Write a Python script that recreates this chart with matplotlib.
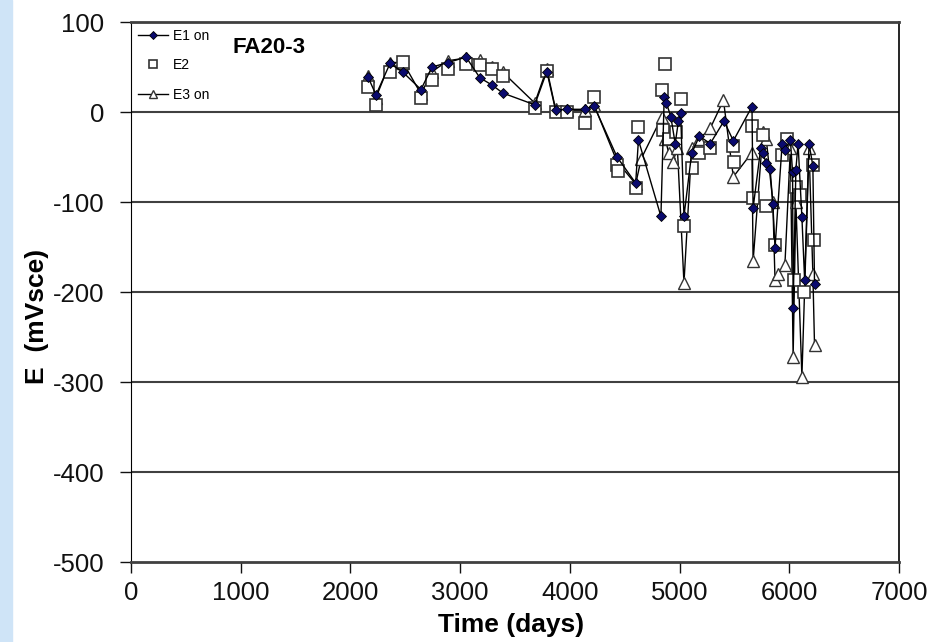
import numpy as np
import matplotlib.pyplot as plt
from matplotlib.patches import Rectangle

plt.rcParams['font.family'] = ['Liberation Sans', 'DejaVu Sans']
plt.rcParams['axes.unicode_minus'] = False

# E1 on (filled diamonds)
e1_days = [2160, 2233, 2361, 2480, 2643, 2744, 2890, 3054, 3180, 3290, 3390,
           3680, 3790, 3870, 3970, 4140, 4220, 4430, 4600, 4625, 4830, 4860,
           4880, 4920, 4960, 4990, 5010, 5040, 5110, 5180, 5280, 5405, 5490,
           5660, 5670, 5740, 5760, 5790, 5825, 5850, 5870, 5935, 5960, 6010,
           6030, 6035, 6060, 6080, 6115, 6140, 6180, 6215, 6230]
e1_vals = [39, 19, 54, 44, 25, 50, 55, 61, 38, 30, 21,
           8, 45, 2, 3, 3, 7, -50, -79, -31, -116, 17,
           10, -5, -35, -10, -1, -116, -46, -27, -35, -10, -32,
           6, -107, -40, -46, -57, -63, -102, -151, -35, -42, -31,
           -67, -218, -64, -35, -117, -187, -35, -60, -191]

# E2 (open squares, no line)
e2_days = [2160, 2233, 2361, 2480, 2643, 2744, 2890, 3054, 3180, 3290, 3390,
           3680, 3790, 3870, 3970, 4140, 4220, 4430, 4440, 4600, 4625, 4840,
           4870, 4850, 4900, 4970, 5010, 5040, 5110, 5180, 5280, 5490, 5500,
           5660, 5670, 5760, 5790, 5870, 5935, 5980, 6040, 6060, 6100, 6130,
           6215, 6225]
e2_vals = [28, 8, 45, 56, 16, 36, 48, 53, 52, 48, 40,
           5, 46, 0, 0, -12, 17, -59, -65, -84, -17, 24,
           53, -20, -30, -22, 14, -127, -62, -45, -40, -38, -55,
           -16, -96, -26, -104, -148, -48, -30, -187, -83, -92, -200,
           -59, -142]

# E3 on (open triangles)
e3_days = [2160, 2233, 2361, 2480, 2643, 2744, 2890, 3054, 3180, 3290, 3390,
           3680, 3790, 3870, 3970, 4140, 4220, 4430, 4600, 4650, 4840, 4870,
           4900, 4940, 4980, 5040, 5110, 5180, 5280, 5400, 5490, 5660, 5670,
           5760, 5790, 5850, 5870, 5900, 5960, 6010, 6035, 6060, 6115, 6180,
           6215, 6230]
e3_vals = [40, 16, 55, 55, 20, 45, 57, 60, 58, 50, 44,
           10, 48, 3, 2, 2, 8, -55, -80, -52, -5, -30,
           -45, -55, -40, -190, -40, -30, -18, 13, -72, -45, -166,
           -22, -30, -100, -187, -180, -170, -40, -272, -100, -294, -40,
           -180, -259]

fig = plt.figure(figsize=(9.31, 6.42), dpi=100)
fig.patches.append(Rectangle((0, 0), 12 / 931, 1, transform=fig.transFigure,
                             color='#cfe4f7', zorder=0))
ax = fig.add_axes([131 / 931, 80 / 642, 768 / 931, 540 / 642])

for y in [-400, -300, -200, -100, 0]:
    ax.axhline(y, color='#404040', lw=1.5, zorder=1)

ax.plot(e1_days, e1_vals, color='black', lw=1, marker='D', ms=5.5,
        mfc='#0a0a6e', mec='black', mew=0.6, label='E1 on', zorder=4)
ax.plot(e2_days, e2_vals, ls='none', marker='s', ms=8.5, mfc='white',
        mec='#333333', mew=1.2, label='E2', zorder=3)
ax.plot(e3_days, e3_vals, color='black', lw=1, marker='^', ms=8, mfc='white',
        mec='#333333', mew=1.0, label='E3 on', zorder=2)

ax.set_xlim(0, 7000)
ax.set_ylim(-500, 100)
ax.set_xticks(np.arange(0, 7001, 1000))
ax.set_yticks(np.arange(-500, 101, 100))
ax.tick_params(direction='out', length=8, width=1, labelsize=18.5,
               colors='#111111')
ax.tick_params(axis='y', pad=11)
ax.tick_params(axis='x', pad=6)
ax.spines['bottom'].set_color('#404040')
ax.spines['bottom'].set_linewidth(2)
ax.spines['top'].set_color('#404040')
ax.spines['top'].set_linewidth(2)
ax.spines['right'].set_linewidth(1.2)

ax.set_xlabel('Time (days)', fontsize=19, fontweight='bold')
ax.xaxis.set_label_coords(0.495, -0.095)
ax.set_ylabel('E  (mVsce)', fontsize=19, fontweight='bold', va='center')
ax.yaxis.set_label_coords(-0.122, 0.454)

leg = ax.legend(loc='upper left', frameon=False, fontsize=10, handlelength=2.2,
                handletextpad=0.3, labelspacing=1.1, borderaxespad=0.1,
                markerscale=0.7, bbox_to_anchor=(0.0, 1.0))
ax.text(0.132, 0.953, 'FA20-3', transform=ax.transAxes, fontsize=16,
        fontweight='bold', va='center')

fig.savefig('out.png', dpi=100)
